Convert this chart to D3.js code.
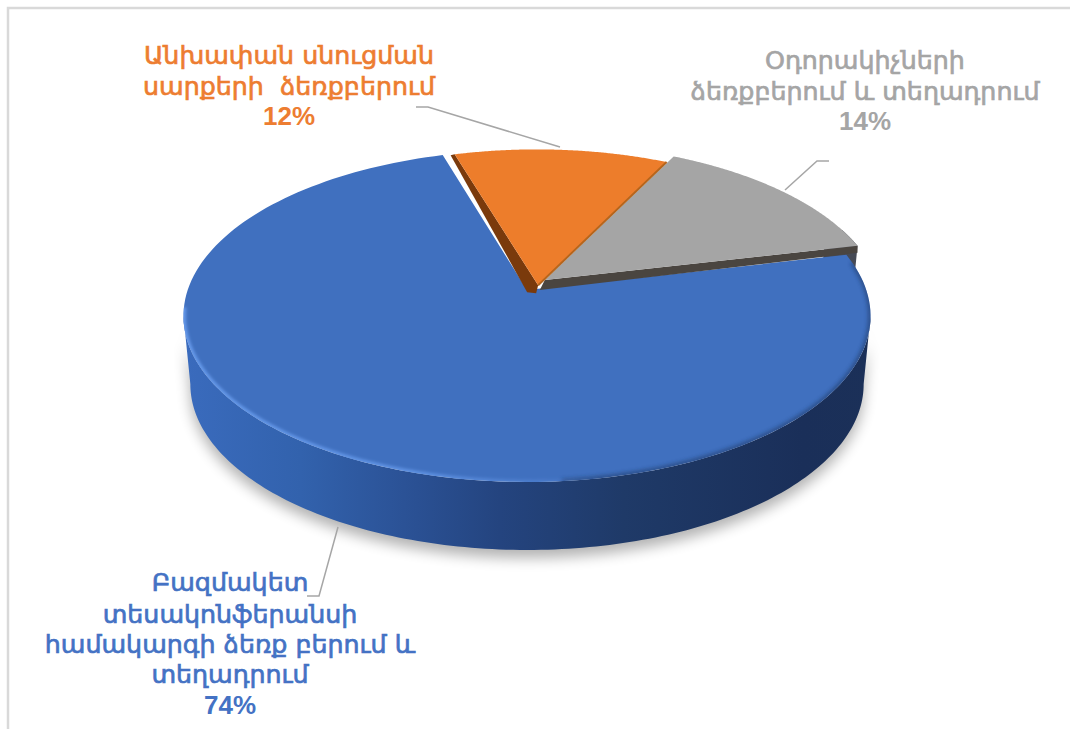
<!DOCTYPE html>
<html><head><meta charset="utf-8">
<script src="https://cdn.jsdelivr.net/npm/d3@7"></script>
<style>html,body{margin:0;padding:0;background:#fff}svg{display:block}text{white-space:pre}</style></head>
<body><svg id="c" width="1070" height="729"></svg>
<script>
const categories=["Բազմակետ տեսակոնֆերանսի համակարգի ձեռք բերում և տեղադրում","Անխափան սնուցման սարքերի  ձեռքբերում","Օդորակիչների ձեռքբերում և տեղադրում"];
const values=[74,12,14];
const colors=["#4070bf","#ed7d2b","#a5a5a5"];
const sideDark=["#1f3864","#7a3a0c","#4a4540"];
const labelLines=[["Բազմակետ","տեսակոնֆերանսի","համակարգի ձեռք բերում և","տեղադրում"],["Անխափան սնուցման","սարքերի  ձեռքբերում"],["Օդորակիչների","ձեռքբերում և տեղադրում"]];
const pctLabels=["74%","12%","14%"];
const labelColors=["#4472c4","#ed7d31","#a5a5a5"];
const labelX=[230,289,865];
const labelY=[[591,623,653,683,714],[64,95,125],[69,99.5,130]];
const leaders=[[[338,527],[319,596],[307,596]],[[416,107],[428,107],[560,147]],[[785,190],[817,161],[829,161]]];
const explode=[[0,0,1],[.033,-.03,.975],[.053,-.0624,.99]];
const svg=d3.select("#c");
const defs=svg.append("defs");
const deg=Math.PI/180;
// perspective projection of the pie plane
const cx=527,cy=290,A=116.5,C=-.1566,R=339.3,H=68,bottomScale=.98;
const proj=(u,v,z=0)=>{const w=1+C*v,s=z?bottomScale:1;return [cx+s*R*u/w,(cy+A*v)/w+z];};
const order=[1,2,0];
const arcs=d3.pie().value(i=>values[i]).sort(null).startAngle(-16.6*deg).endAngle(343.4*deg)(order);
const sl={};arcs.forEach(a=>sl[a.data]=a);
const line=d3.line();
const rimPts=(a0,a1,e,z=0)=>d3.range(0,161).map(i=>{const t=a0+(a1-a0)*i/160;return proj(e[2]*Math.sin(t)+e[0],-e[2]*Math.cos(t)+e[1],z);});
const topPath=i=>{const a=sl[i],e=explode[i];return line([proj(e[0],e[1]),...rimPts(a.startAngle,a.endAngle,e)])+"Z";};
const sidePath=(a0,a1,e)=>line([...rimPts(a0,a1,e,0),...rimPts(a0,a1,e,H).reverse()])+"Z";
const blurF=(id,s)=>defs.append("filter").attr("id",id).attr("x","-15%").attr("y","-15%").attr("width","130%").attr("height","130%").append("feGaussianBlur").attr("stdDeviation",s);
blurF("sh",7);blurF("bl",2);blurF("hl",1.5);
// frame
svg.append("path").attr("d",line([[8,729],[8,8],[1070,8]])).attr("fill","none").attr("stroke","#d9d9d9").attr("stroke-width",2.5);
// shadow + side wall of the big slice (between the two silhouette tangents)
const blueFront=[99*deg,261*deg];
svg.append("path").attr("d",sidePath(blueFront[0],blueFront[1],explode[0])).attr("transform","translate(0,8)").attr("fill","#000").attr("opacity",.3).attr("filter","url(#sh)");
const grad=defs.append("linearGradient").attr("id","gb").attr("gradientUnits","userSpaceOnUse").attr("x1",184).attr("x2",871).attr("y1",0).attr("y2",0);
[[0,"#3a6bbd"],[.17,"#3262ad"],[.32,"#2b5296"],[.46,"#24447f"],[.64,"#1f3a68"],[.9,"#1a2f59"],[1,"#1b3058"]].forEach(s=>grad.append("stop").attr("offset",s[0]).attr("stop-color",s[1]));
svg.append("path").attr("d",sidePath(blueFront[0],blueFront[1],explode[0])).attr("fill","url(#gb)");
// stub of the grey wedge's rim, behind the blue top
defs.append("clipPath").attr("id","stub").append("rect").attr("x",800).attr("y",230).attr("width",70).attr("height",48);
svg.append("path").attr("d",sidePath(sl[2].endAngle-12*deg,sl[2].endAngle,explode[2])).attr("fill","#464a55").attr("clip-path","url(#stub)");
// blue top
svg.append("path").attr("d",topPath(0)).attr("fill",colors[0]);
defs.append("clipPath").attr("id","cb").append("path").attr("d",topPath(0));
const rimG=svg.append("g").attr("clip-path","url(#cb)");
rimG.append("path").attr("d",line(rimPts(80*deg,175*deg,explode[0]))).attr("fill","none").attr("stroke","#1f3864").attr("stroke-width",4).attr("opacity",.7).attr("filter","url(#bl)");
const hg=defs.append("linearGradient").attr("id","hg").attr("gradientUnits","userSpaceOnUse").attr("x1",190).attr("x2",600).attr("y1",0).attr("y2",0);
[[0,.8],[.55,.65],[1,0]].forEach(s=>hg.append("stop").attr("offset",s[0]).attr("stop-color","#6ea3f5").attr("stop-opacity",s[1]));
rimG.append("path").attr("d",line(rimPts(170*deg,264*deg,explode[0]))).attr("fill","none").attr("stroke","url(#hg)").attr("stroke-width",5).attr("filter","url(#hl)");
// walls of the exploded wedges
const oe=explode[1],ge=explode[2],apexO=proj(oe[0],oe[1]),apexG=proj(ge[0],ge[1]);
const oc=rimPts(sl[1].startAngle,sl[1].startAngle,oe)[0],oc2=rimPts(sl[1].endAngle,sl[1].endAngle,oe)[0],gc=rimPts(sl[2].endAngle,sl[2].endAngle,ge)[0];
svg.append("path").attr("d",line([oc,apexO,[apexO[0]-2,apexO[1]+8],[apexO[0]-11,apexO[1]+7],[oc[0]-4,oc[1]+1]])+"Z").attr("fill",sideDark[1]);
svg.append("path").attr("d",line([apexG,gc,[gc[0],gc[1]+7],[apexG[0]-5,apexG[1]+10]])+"Z").attr("fill",sideDark[2]);
[1,2].forEach(i=>svg.append("path").attr("d",topPath(i)).attr("fill",colors[i]));
svg.append("path").attr("d",line([apexO,oc2])).attr("stroke","#b5651d").attr("stroke-width",2).attr("fill","none");
// leaders
svg.append("g").selectAll("path").data(leaders).join("path").attr("d",d=>line(d)).attr("fill","none").attr("stroke","#a6a6a6").attr("stroke-width",1.5);
// labels
labelLines.forEach((ls,i)=>{
 const g=svg.append("g").attr("text-anchor","middle").attr("fill",labelColors[i]);
 g.selectAll("text.n").data(ls).join("text").attr("class","n").attr("x",labelX[i]).attr("y",(d,j)=>labelY[i][j]).attr("font-family","'DejaVu Sans',sans-serif").attr("stroke",labelColors[i]).attr("stroke-width",.7).attr("font-size",25.3).text(d=>d);
 g.append("text").attr("x",labelX[i]).attr("y",labelY[i][ls.length]).attr("font-family","'Liberation Sans',Arial,sans-serif").attr("font-weight",700).attr("font-size",26).text(pctLabels[i]);
});
</script></body></html>
